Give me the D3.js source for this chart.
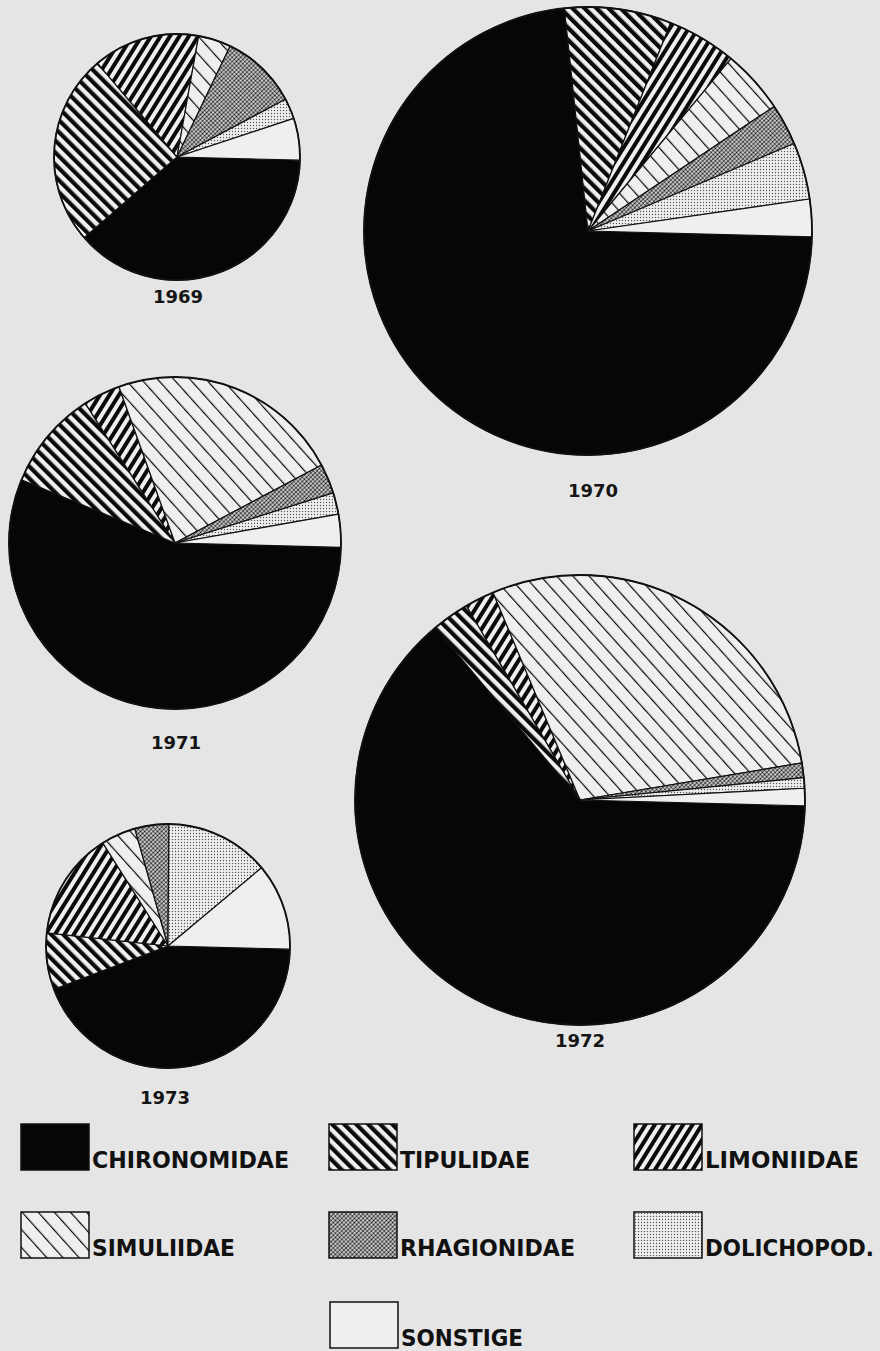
<!DOCTYPE html>
<html>
<head>
<meta charset="utf-8">
<script src="https://cdn.jsdelivr.net/npm/d3@7"></script>
<style>
  body { margin: 0; background: #e5e5e5; }
  svg { display: block; }
</style>
</head>
<body>
<div id="chart"></div>
<script>
// families, in the order the slices run clockwise from 3 o'clock
var categories = ["CHIRONOMIDAE", "TIPULIDAE", "LIMONIIDAE", "SIMULIIDAE", "RHAGIONIDAE", "DOLICHOPOD.", "SONSTIGE"];
var years = ["1969", "1970", "1971", "1972", "1973"];

// share of each family (%)
var values1969 = [38.2, 25.2, 14.0, 4.3, 10.1, 2.7, 5.5];
var values1970 = [72.9, 7.7, 5.0, 4.6, 3.0, 4.1, 2.7];
var values1971 = [55.8, 9.7, 3.6, 22.7, 2.9, 2.1, 3.2];
var values1972 = [63.5, 2.7, 2.1, 28.7, 1.05, 0.75, 1.25];
var values1973 = [43.8, 7.5, 14.3, 4.6, 4.5, 13.8, 11.5];
var yearValues = [values1969, values1970, values1971, values1972, values1973];

var w = 880, h = 1351;

// where each pie sits on the page
var pieLayout = [
  { cx: 177, cy: 157, r: 123, labelX: 178, labelY: 303 },
  { cx: 588, cy: 231, r: 224, labelX: 593, labelY: 497 },
  { cx: 175, cy: 543, r: 166, labelX: 176, labelY: 749 },
  { cx: 580, cy: 800, r: 225, labelX: 580, labelY: 1047 },
  { cx: 168, cy: 946, r: 122, labelX: 165, labelY: 1104 }
];

// legend boxes: x, y and label width
var legendLayout = [
  { x: 21, y: 1124, tw: 197 },
  { x: 329, y: 1124, tw: 130 },
  { x: 634, y: 1124, tw: 154 },
  { x: 21, y: 1212, tw: 143 },
  { x: 329, y: 1212, tw: 175 },
  { x: 634, y: 1212, tw: 169 },
  { x: 330, y: 1302, tw: 122 }
];

var paper = "#efefef";

var svg = d3.select("#chart")
  .append("svg")
  .attr("width", w)
  .attr("height", h);

svg.append("rect")
  .attr("width", w)
  .attr("height", h)
  .attr("fill", "#e5e5e5");

var defs = svg.append("defs");

function stripes(id, angle, period, thick) {
  var p = defs.append("pattern")
    .attr("id", id)
    .attr("patternUnits", "userSpaceOnUse")
    .attr("width", period)
    .attr("height", period)
    .attr("patternTransform", "rotate(" + angle + ")");
  p.append("rect").attr("width", period).attr("height", period).attr("fill", paper);
  p.append("rect").attr("width", thick).attr("height", period).attr("fill", "#0a0a0a");
}

function dots(id, size, rad, angle, ink) {
  var p = defs.append("pattern")
    .attr("id", id)
    .attr("patternUnits", "userSpaceOnUse")
    .attr("width", size)
    .attr("height", size)
    .attr("patternTransform", "rotate(" + angle + ")");
  p.append("rect").attr("width", size).attr("height", size).attr("fill", paper);
  p.append("circle").attr("cx", size / 2).attr("cy", size / 2).attr("r", rad).attr("fill", ink);
}

stripes("tipu", -45, 8.5, 4.2);
stripes("limo", 32, 8, 4);
stripes("simu", -42, 12, 1.2);
dots("rhag", 3, 1.15, 45, "#111");
dots("doli", 3, 0.7, 0, "#555");

var fills = ["#060606", "url(#tipu)", "url(#limo)", "url(#simu)", "url(#rhag)", "url(#doli)", paper];

var start = Math.PI / 2 + 1.5 * Math.PI / 180;
var pie = d3.pie()
  .sort(null)
  .startAngle(start)
  .endAngle(start + 2 * Math.PI);

yearValues.forEach(function (vals, i) {
  var L = pieLayout[i];
  var arc = d3.arc().innerRadius(0).outerRadius(L.r);
  var g = svg.append("g").attr("transform", "translate(" + L.cx + "," + L.cy + ")");

  g.selectAll("path")
    .data(pie(vals))
    .enter()
    .append("path")
    .attr("d", arc)
    .attr("fill", function (d, j) { return fills[j]; })
    .attr("stroke", "#111")
    .attr("stroke-width", 1.2)
    .attr("stroke-linejoin", "round");

  g.append("circle")
    .attr("r", L.r)
    .attr("fill", "none")
    .attr("stroke", "#111")
    .attr("stroke-width", 1.8);

  svg.append("text")
    .attr("x", L.labelX)
    .attr("y", L.labelY)
    .attr("text-anchor", "middle")
    .attr("font-family", "'DejaVu Sans', sans-serif")
    .attr("font-weight", "bold")
    .attr("font-size", 18)
    .attr("fill", "#151515")
    .text(years[i]);
});

// legend
var boxW = 68, boxH = 46;
var leg = svg.selectAll("g.leg")
  .data(categories)
  .enter()
  .append("g")
  .attr("class", "leg")
  .attr("transform", function (d, i) { return "translate(" + legendLayout[i].x + "," + legendLayout[i].y + ")"; });

leg.append("rect")
  .attr("width", boxW)
  .attr("height", boxH)
  .attr("fill", function (d, i) { return fills[i]; })
  .attr("stroke", "#111")
  .attr("stroke-width", 1.5);

leg.append("text")
  .attr("x", boxW + 3)
  .attr("y", boxH - 2)
  .attr("font-family", "'DejaVu Sans Condensed', 'DejaVu Sans', sans-serif")
  .attr("font-weight", "bold")
  .attr("font-size", 23)
  .attr("fill", "#111")
  .attr("textLength", function (d, i) { return legendLayout[i].tw; })
  .attr("lengthAdjust", "spacingAndGlyphs")
  .text(function (d) { return d; });
</script>
</body>
</html>
